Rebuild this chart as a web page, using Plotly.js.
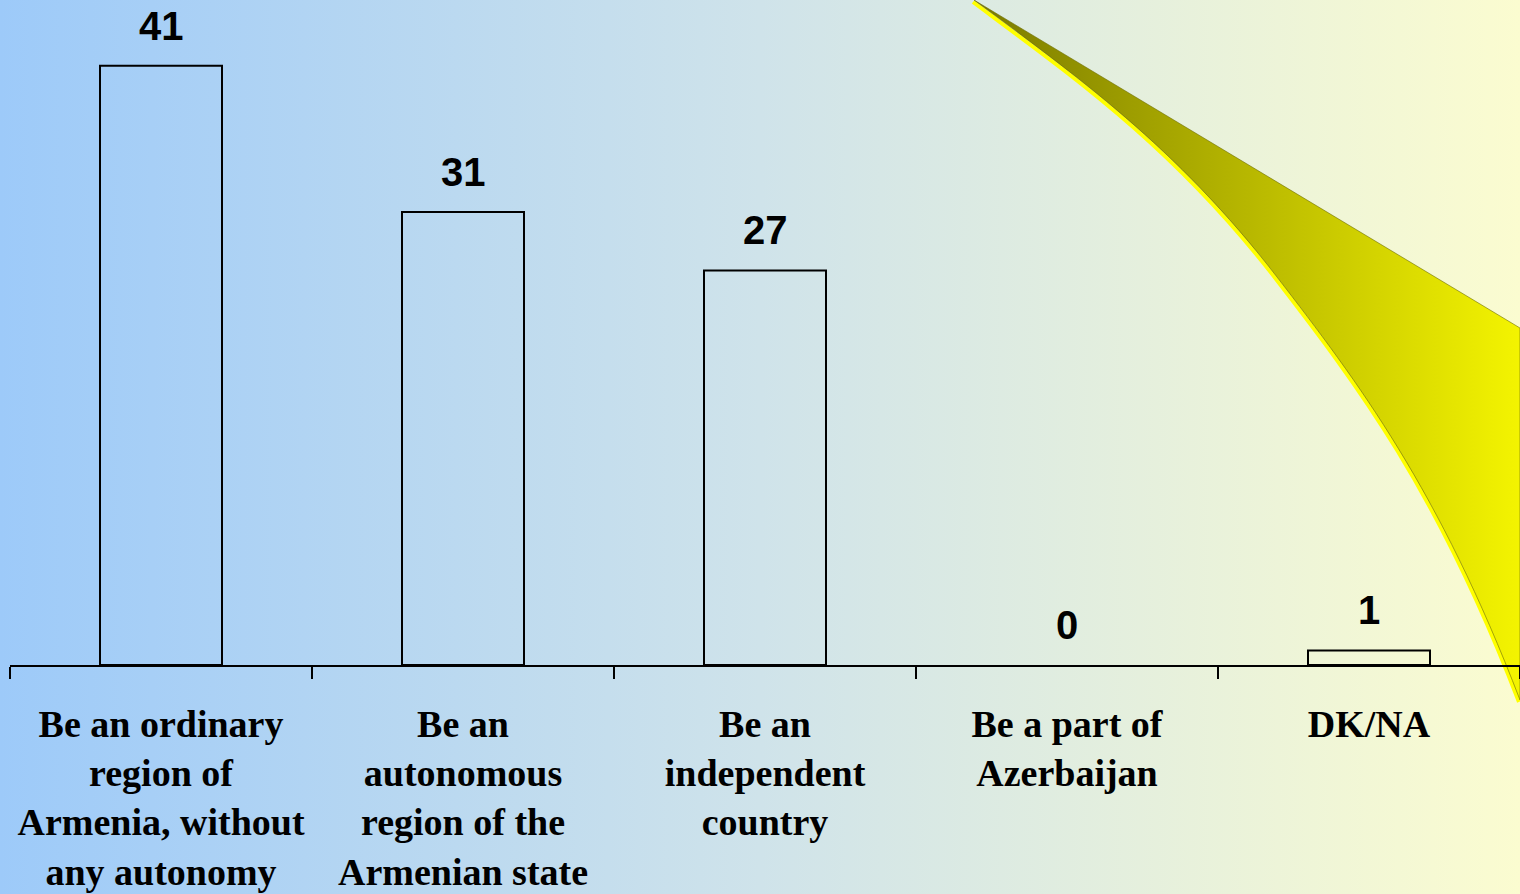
<!DOCTYPE html>
<html>
<head>
<meta charset="utf-8">
<script src="https://cdn.plot.ly/plotly-3.0.1.min.js"></script>
<style>
html,body{margin:0;padding:0;overflow:hidden;}
#chart{width:1520px;height:894px;}
</style>
</head>
<body>
<div id="chart"></div>
<script>
// ---- data ----
const categories = [
  "Be an ordinary<br>region of<br>Armenia, without<br>any autonomy",
  "Be an<br>autonomous<br>region of the<br>Armenian state",
  "Be an<br>independent<br>country",
  "Be a part of<br>Azerbaijan",
  "DK/NA"
];
const values = [41, 31, 27, 0, 1];
const valueLabels = ["41", "31", "27", "0", "1"];

// ---- decorative background (gradient + swoosh) ----
const swoosh = `<svg xmlns='http://www.w3.org/2000/svg' width='1520' height='894' viewBox='0 0 1520 894'>
<defs><linearGradient id='g' gradientUnits='userSpaceOnUse' x1='974' y1='0' x2='1520' y2='0'>
<stop offset='0' stop-color='#7a7a00'/><stop offset='1' stop-color='#f4f400'/></linearGradient></defs>
<path d='M1520,700 C1439,489 1358,382 1277,277 C1176,146 1075,75 974,0' fill='none' stroke='#ffff00' stroke-width='4' transform='translate(-1,2)'/>
<path d='M974,0 L1520,328 L1520,700 C1439,489 1358,382 1277,277 C1176,146 1075,75 974,0 Z' fill='url(#g)' stroke='#6b6b00' stroke-width='0.6'/>
</svg>`;
const el = document.getElementById('chart');
el.style.background = "url(\"data:image/svg+xml," + encodeURIComponent(swoosh) + "\") no-repeat 0 0, linear-gradient(to right, #9dcaf9 0%, #cfe3ea 50%, #fbfcd0 100%)";

const trace = {
  type: 'bar',
  x: categories,
  y: values,
  marker: {
    color: 'rgba(0,0,0,0)',
    line: {color: '#000000', width: values.map(v => v > 0 ? 2 : 0)}
  },
  hoverinfo: 'none'
};

const annotations = categories.map((c, i) => ({
  x: c, y: values[i], xref: 'x', yref: 'y',
  text: valueLabels[i], showarrow: false,
  yanchor: 'bottom', yshift: 16,
  font: {family: 'Liberation Sans, Arial, sans-serif', size: 40, color: '#000', weight: 'bold'}
}));

const layout = {
  width: 1520, height: 894,
  margin: {l: 10, r: 0, t: 0, b: 229},
  paper_bgcolor: 'rgba(0,0,0,0)',
  plot_bgcolor: 'rgba(0,0,0,0)',
  bargap: 0.596,
  showlegend: false,
  xaxis: {
    type: 'category',
    range: [-0.5, 4.5],
    showline: true, linecolor: '#000', linewidth: 2,
    ticks: 'outside', tickson: 'boundaries', ticklen: 12, tickwidth: 2, tickcolor: '#000',
    ticklabelstandoff: 24,
    showgrid: false, zeroline: false,
    tickfont: {family: 'Liberation Serif, Times New Roman, serif', size: 38, color: '#000', weight: 'bold'},
    automargin: false
  },
  yaxis: {
    range: [0, 45.5],
    visible: false, showgrid: false, zeroline: false
  },
  annotations: annotations
};

Plotly.newPlot('chart', [trace], layout, {displayModeBar: false, staticPlot: true});
</script>
</body>
</html>
